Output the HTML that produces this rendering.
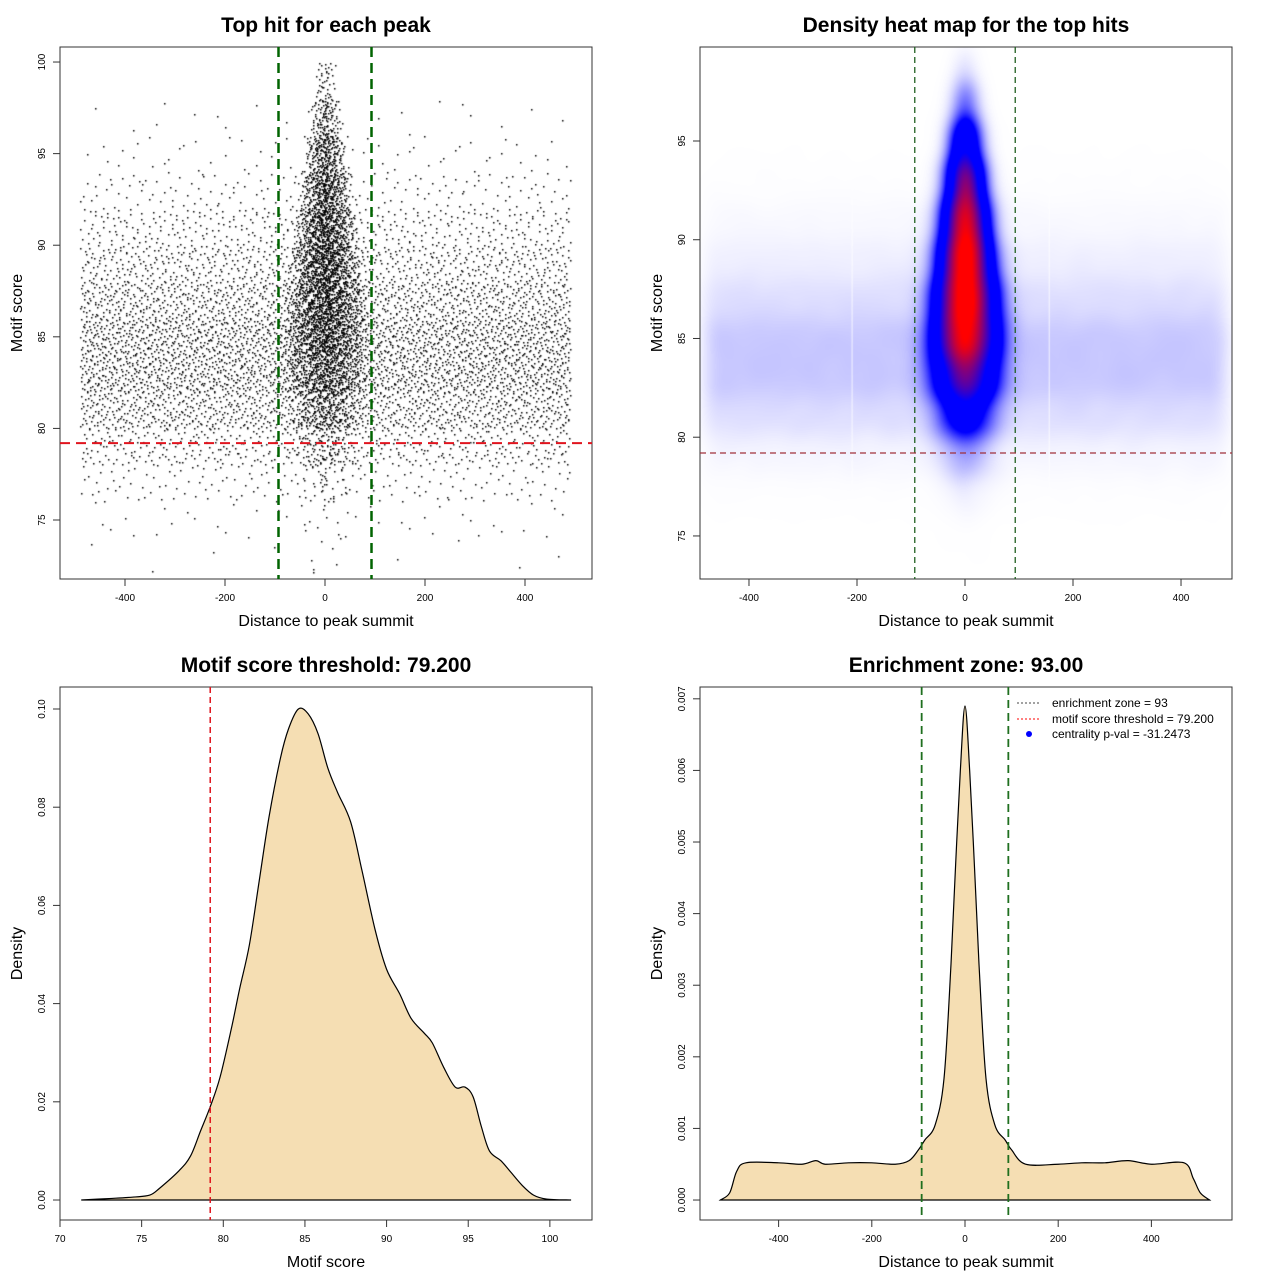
<!DOCTYPE html>
<html><head><meta charset="utf-8">
<style>
html,body{margin:0;padding:0;background:#fff;}
#wrap{position:relative;width:1280px;height:1280px;overflow:hidden;font-family:"Liberation Sans",sans-serif;}
canvas,svg{position:absolute;}
</style></head>
<body>
<div id="wrap">
<canvas id="scatter" width="532" height="532" style="left:60px;top:47px;"></canvas>
<canvas id="heat" width="532" height="532" style="left:700px;top:47px;"></canvas>
<svg id="svg" width="1280" height="1280" style="left:0;top:0;"></svg>
</div>
<script>
// ---- data ----
const bgXMin = -490, bgXMax = 490;
const rowYBins = [98,96,94,92,90,88,86,84,82,80,78,76,74,72]; // lower edge of each 2-unit score bin
const bgPerRow = [0,20,60,160,360,600,900,1200,1200,900,440,160,40,10]; // background hits per score bin
const centerCount = [40,120,260,400,520,600,640,600,440,260,100,30,8,4]; // extra central hits per score bin
const centerSpread = [25,35,45,55,65,75,85,90,90,80,70,60,60,60]; // half-width of central cluster
const scoreX = [71.3,73,74.5,75.5,76.1,77.3,78.0,78.6,79.2,79.8,80.5,81,81.6,82.2,82.8,83.5,84,84.6,85.2,85.8,86.4,87,87.8,88.5,89.3,90,90.8,91.5,92.3,92.8,93.5,94.2,94.8,95.3,95.8,96.3,97,97.6,98.3,99,99.8,101.3];
const scoreD = [0,0.0003,0.0006,0.001,0.0024,0.006,0.009,0.014,0.019,0.025,0.035,0.043,0.052,0.065,0.078,0.090,0.096,0.100,0.099,0.095,0.088,0.083,0.077,0.067,0.055,0.047,0.042,0.037,0.034,0.032,0.027,0.023,0.023,0.021,0.015,0.010,0.008,0.0057,0.003,0.001,0.0002,0];
const distX = [-525,-505,-490,-470,-400,-350,-320,-300,-250,-200,-150,-120,-100,-86,-64,-45,-30,-20,-10,0,10,20,30,45,64,86,100,130,200,250,300,350,400,470,490,505,525];
const distD = [0,0.0001,0.0004,0.00052,0.00052,0.0005,0.00055,0.0005,0.00052,0.00052,0.0005,0.00055,0.0007,0.00084,0.00105,0.0017,0.0033,0.0047,0.006,0.0069,0.006,0.0047,0.0033,0.0017,0.00105,0.00084,0.0007,0.0005,0.0005,0.00052,0.00052,0.00055,0.0005,0.00052,0.0003,0.0001,0];
const threshold = 79.2;
const zone = 93;
const xTicksDist = [-400,-200,0,200,400];
const yTicksP1 = [75,80,85,90,95,100];
const yTicksP2 = [75,80,85,90,95];
const xTicksScore = [70,75,80,85,90,95,100];
const yTicksP3 = [0,0.02,0.04,0.06,0.08,0.10];
const yTicksP3Labels = ["0.00","0.02","0.04","0.06","0.08","0.10"];
const yTicksP4 = [0,0.001,0.002,0.003,0.004,0.005,0.006,0.007];
const yTicksP4Labels = ["0.000","0.001","0.002","0.003","0.004","0.005","0.006","0.007"];
const legendLabels = ["enrichment zone = 93","motif score threshold = 79.200","centrality p-val = -31.2473"];

// ---- panels ----
function mk(x0,x1,y0,y1,xmin,xmax,ymin,ymax){return {x0,x1,y0,y1,sx:v=>x0+(v-xmin)/(xmax-xmin)*(x1-x0),sy:v=>y1-(v-ymin)/(ymax-ymin)*(y1-y0)};}
const P1 = mk(60,592,47,579,-530,534,71.78,100.82);
const P2 = mk(700,1232,47,579,-490.7,494.4,72.82,99.76);
const P3 = mk(60,592,687,1220,70,102.58,-0.00407,0.10448);
const P4 = mk(700,1232,687,1220,-568.7,573,-0.000279,0.007165);

const svg = document.getElementById('svg');
const NS = 'http://www.w3.org/2000/svg';
function el(tag, attrs, parent){const e=document.createElementNS(NS,tag);for(const k in attrs)e.setAttribute(k,attrs[k]);(parent||svg).appendChild(e);return e;}
function txt(s, attrs){const e=el('text',attrs);e.textContent=s;return e;}
function halton(i,b){let f=1,r=0;while(i>0){f/=b;r+=f*(i%b);i=Math.floor(i/b);}return r;}

// layout hits (deterministic low-discrepancy placement within each bin)
const hits=[];
rowYBins.forEach((y0,r)=>{
 const nb=Math.round(bgPerRow[r]);
 for(let i=0;i<nb;i++){const k=i+1+r*977;
  hits.push([bgXMin+(bgXMax-bgXMin)*halton(k,2), y0+2*halton(k,3)]);}
 for(let i=0;i<centerCount[r];i++){const k=i+1+r*1931+50000;
  const x=centerSpread[r]*(halton(k,2)+halton(k,5)-1);
  hits.push([x, y0+2*halton(k,3)]);}
});

// scatter
(function(){
 const c=document.getElementById('scatter').getContext('2d');
 c.fillStyle='#000';
 hits.forEach(h=>{c.fillRect(Math.round(P1.sx(h[0])-60),Math.round(P1.sy(h[1])-47),1.5,1.5);});
})();

// heatmap (2D histogram + gaussian smoothing)
(function(){
 const W=532,H=532,c=document.getElementById('heat').getContext('2d');
 let g=new Float32Array(W*H);
 hits.forEach(h=>{const x=Math.round(P2.sx(h[0])-700),y=Math.round(P2.sy(h[1])-47);
  if(x>=0&&x<W&&y>=0&&y<H)g[y*W+x]+=1;});
 function kern(s){const R=Math.ceil(s*3),k=[];let t=0;for(let i=-R;i<=R;i++){const v=Math.exp(-i*i/(2*s*s));k.push(v);t+=v;}return {R,k:k.map(v=>v/t)};}
 function blur(src,s,horiz){const {R,k}=kern(s),out=new Float32Array(W*H);
  for(let y=0;y<H;y++)for(let x=0;x<W;x++){let a=0;
   for(let j=-R;j<=R;j++){const xx=horiz?x+j:x,yy=horiz?y:y+j;
    if(xx<0||xx>=W||yy<0||yy>=H)continue;a+=src[yy*W+xx]*k[j+R];}
   out[y*W+x]=a;}return out;}
 g=blur(g,10,true);g=blur(g,12,false);
 let mx=0;for(const v of g)if(v>mx)mx=v;
 const img=c.createImageData(W,H);
 for(let i=0;i<W*H;i++){const t=g[i]/mx;let R,G,B;
  if(t<0.4){const f=Math.pow(t/0.4,1.8);R=G=255*(1-f);B=255;}
  else if(t<0.6){R=G=0;B=255;}
  else{const f=Math.min(1,(t-0.6)/0.35);R=255*f;G=0;B=255*(1-f);}
  img.data[i*4]=R;img.data[i*4+1]=G;img.data[i*4+2]=B;img.data[i*4+3]=255;}
 c.putImageData(img,0,0);
 c.fillStyle='rgba(255,255,255,0.8)';
 c.fillRect(P2.sx(-210)-700,0,1,532);c.fillRect(P2.sx(155)-700,0,1,532);
})();

function smoothPath(P,xs,ys,close){
 const pts=xs.map((x,i)=>[P.sx(x),P.sy(ys[i])]);
 let d='M'+pts[0][0]+','+pts[0][1];
 for(let i=0;i<pts.length-1;i++){
  const p0=pts[Math.max(0,i-1)],p1=pts[i],p2=pts[i+1],p3=pts[Math.min(pts.length-1,i+2)];
  const c1=[p1[0]+(p2[0]-p0[0])/6,p1[1]+(p2[1]-p0[1])/6],c2=[p2[0]-(p3[0]-p1[0])/6,p2[1]-(p3[1]-p1[1])/6];
  d+=` C${c1[0]},${c1[1]} ${c2[0]},${c2[1]} ${p2[0]},${p2[1]}`;
 }
 if(close)d+='Z';
 return d;
}

function axes(P,name,title,xlab,ylab,xt,xtl,yt,ytl){
 const b=el('rect',{x:P.x0,y:P.y0,width:P.x1-P.x0,height:P.y1-P.y0,fill:'none',stroke:'#333','stroke-width':1});
 
 const cx=(P.x0+P.x1)/2,cy=(P.y0+P.y1)/2;
 const t=txt(title,{x:cx,y:P.y0-15,'text-anchor':'middle','font-size':21,'font-weight':'bold',fill:'#000'});
 
 const xl=txt(xlab,{x:cx,y:P.y1+47,'text-anchor':'middle','font-size':16,fill:'#000'});
 
 const yl=txt(ylab,{x:0,y:0,transform:`translate(${P.x0-38},${cy}) rotate(-90)`,'text-anchor':'middle','font-size':16,fill:'#000'});
 
 xt.forEach((v,i)=>{const x=P.sx(v);
  const l=el('line',{x1:x,x2:x,y1:P.y1,y2:P.y1+7,stroke:'#333'});
  
  const s=txt(xtl[i],{x:x,y:P.y1+22,'text-anchor':'middle','font-size':10,fill:'#000'});
  });
 yt.forEach((v,i)=>{const y=P.sy(v);
  const l=el('line',{x1:P.x0-7,x2:P.x0,y1:y,y2:y,stroke:'#333'});
  
  const s=txt(ytl[i],{x:0,y:0,transform:`translate(${P.x0-15},${y}) rotate(-90)`,'text-anchor':'middle','font-size':10,fill:'#000'});
  });
}
function vline(P,v,color,w,dash,name){const l=el('line',{x1:P.sx(v),x2:P.sx(v),y1:P.y0,y2:P.y1,stroke:color,'stroke-width':w,'stroke-dasharray':dash});
 }
function hline(P,v,color,w,dash,name){const l=el('line',{x1:P.x0,x2:P.x1,y1:P.sy(v),y2:P.sy(v),stroke:color,'stroke-width':w,'stroke-dasharray':dash});
 }

// panel 1
axes(P1,'scatter','Top hit for each peak','Distance to peak summit','Motif score',xTicksDist,xTicksDist.map(String),yTicksP1,yTicksP1.map(String));
vline(P1,-zone,'#006400',2.5,'10,6','zone-left-line');
vline(P1,zone,'#006400',2.5,'10,6','zone-right-line');
hline(P1,threshold,'#e0141e',2,'10,6','threshold-line');
// panel 2
axes(P2,'heatmap','Density heat map for the top hits','Distance to peak summit','Motif score',xTicksDist,xTicksDist.map(String),yTicksP2,yTicksP2.map(String));
vline(P2,-zone,'#1f5f1f',1.3,'6,4','heat-zone-left-line');
vline(P2,zone,'#1f5f1f',1.3,'6,4','heat-zone-right-line');
hline(P2,threshold,'#a0303a',1.3,'6,4','heat-threshold-line');
// panel 3
axes(P3,'score-density','Motif score threshold: 79.200','Motif score','Density',xTicksScore,xTicksScore.map(String),yTicksP3,yTicksP3Labels);
const a3=el('path',{d:smoothPath(P3,scoreX,scoreD,true),fill:'#f5deb3',stroke:'#000','stroke-width':1.2});

vline(P3,threshold,'#e0141e',1.5,'6,4','score-threshold-line');
// panel 4
axes(P4,'distance-density','Enrichment zone: 93.00','Distance to peak summit','Density',xTicksDist,xTicksDist.map(String),yTicksP4,yTicksP4Labels);
const a4=el('path',{d:smoothPath(P4,distX,distD,true),fill:'#f5deb3',stroke:'#000','stroke-width':1.2});

vline(P4,-zone,'#1f6f1f',1.8,'8,5','dist-zone-left-line');
vline(P4,zone,'#1f6f1f',1.8,'8,5','dist-zone-right-line');
// legend
const lg=el('g',{});

const ly=[703,719,734];
const l1=el('line',{x1:1017,x2:1041,y1:ly[0],y2:ly[0],stroke:'#444','stroke-dasharray':'2,2'},lg);

const l2=el('line',{x1:1017,x2:1041,y1:ly[1],y2:ly[1],stroke:'#f00','stroke-dasharray':'2,2'},lg);

const l3=el('circle',{cx:1029,cy:ly[2],r:3,fill:'#00f'},lg);

legendLabels.forEach((s,i)=>{const t=el('text',{x:1052,y:ly[i]+4,'font-size':12,fill:'#000'},lg);t.textContent=s;
 });
</script>
</body></html>
